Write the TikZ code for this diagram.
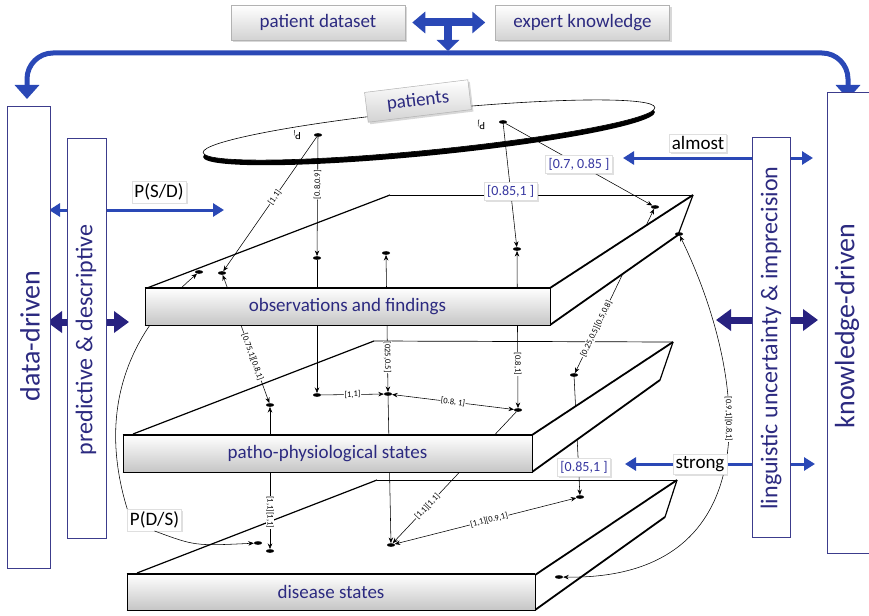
\documentclass[tikz,border=0pt]{standalone}
\usepackage{fontspec}
\setmainfont{Carlito}
\usetikzlibrary{arrows.meta,shapes.geometric,shadows}
\definecolor{navy}{RGB}{44,42,128}
\definecolor{ablue}{RGB}{42,72,182}
\definecolor{dblue}{RGB}{40,34,128}
\definecolor{bord}{RGB}{60,60,140}
\definecolor{lblue}{RGB}{55,55,160}
\newcommand\myfs[1]{\fontsize{#1}{#1}\selectfont}
\tikzset{
 graybox/.style={draw=gray!60, line width=0.5pt, top color=white, bottom color=gray!35, text=navy, font=\myfs{19}, inner sep=0pt, drop shadow={shadow xshift=2pt, shadow yshift=-2pt, opacity=0.3}},
 tagbox/.style={draw=gray!25, fill=white, line width=0.4pt, inner sep=2.5pt, font=\myfs{19}, drop shadow={shadow xshift=1.5pt, shadow yshift=-1.5pt, opacity=0.25}},
 blabel/.style={tagbox, text=lblue, font=\myfs{14}, inner sep=3pt},
 sidebox/.style={draw=bord, fill=white, line width=0.9pt, inner sep=0pt},
 sidetext/.style={rotate=90, text=navy, inner sep=0pt},
 front/.style={draw=black, line width=0.8pt, top color=white, bottom color=gray!45, text=navy, font=\myfs{19}, inner sep=0pt},
 dot/.style={ellipse, fill=black, minimum width=8pt, minimum height=3.6pt, inner sep=0pt},
 con/.style={line width=0.55pt, -{Stealth[length=5.5pt,width=4.5pt]}},
 biconn/.style={line width=0.55pt, {Stealth[length=5.5pt,width=4.5pt]}-{Stealth[length=5.5pt,width=4.5pt]}},
 tinylab/.style={font=\myfs{8.5}, fill=white, inner sep=0.6pt, sloped},
 bluedbl/.style={ablue, line width=3pt, {Triangle[width=13pt,length=11pt]}-{Triangle[width=13pt,length=11pt]}},
 darkdbl/.style={dblue, line width=7pt, {Triangle[width=21pt,length=15pt]}-{Triangle[width=21pt,length=15pt]}},
 thickedge/.style={line width=1.8pt},
 midedge/.style={line width=1.2pt},
 thinedge/.style={line width=0.7pt},
}
\begin{document}
\begin{tikzpicture}[x=1pt,y=-1pt]
\useasboundingbox (0,0) rectangle (869,615);
\fill[white] (0,0) rectangle (869,615);

% ---- top boxes and big blue arrows
\node[graybox, minimum width=174pt, minimum height=35pt] (pd) at (318,22.5) {patient dataset};
\node[graybox, minimum width=174pt, minimum height=35pt] (ek) at (582.5,22.5) {expert knowledge};
\coordinate (tee) at (448,23);
\coordinate (stemend) at (448,51);
\coordinate (teeb) at (448,53);
\coordinate (lt) at (27,99);
\coordinate (rt) at (848,99);
\draw[ablue, line width=5pt, rounded corners=26pt, -{Triangle[width=24pt,length=14pt]}] (teeb) -| (lt);
\draw[ablue, line width=5pt, rounded corners=26pt, -{Triangle[width=24pt,length=14pt]}] (teeb) -| (rt);
\draw[ablue, line width=8pt, {Triangle[width=21pt,length=13pt]}-{Triangle[width=21pt,length=13pt]}] ([xshift=7pt]pd.east) -- ([xshift=-10pt]ek.west);
\draw[ablue, line width=8pt, -{Triangle[width=22pt,length=11pt]}] (tee) -- (stemend);

% ---- horizontal arrows behind side boxes
\coordinate (psdL) at (49,210); \coordinate (psdR) at (224,210);
\coordinate (almL) at (623,158); \coordinate (almR) at (813,158);
\coordinate (strL) at (625,464); \coordinate (strR) at (815,464);
\coordinate (dkL1) at (47,322); \coordinate (dkR1) at (129,322);
\coordinate (dkL2) at (716,320); \coordinate (dkR2) at (818,320);
\draw[bluedbl] (psdL) -- (psdR);
\draw[bluedbl] (almL) -- (almR);
\draw[bluedbl] (strL) -- (strR);
\draw[darkdbl] (dkL1) -- (dkR1);
\draw[darkdbl] (dkL2) -- (dkR2);

% ---- side boxes
\node[sidebox, minimum width=43pt, minimum height=462pt] (ddb) at (28.5,337) {};
\node[sidetext, font=\myfs{28}] (ddt) at (30,336) {data-driven};
\node[sidebox, minimum width=39pt, minimum height=400pt] (pdb) at (86.5,338) {};
\node[sidetext, font=\myfs{24}] (pdt) at (86,340) {predictive \& descriptive};
\node[sidebox, minimum width=38pt, minimum height=400pt] (lub) at (771,337) {};
\node[sidetext, font=\myfs{24}] (lut) at (771,338) {linguistic uncertainty \& imprecision};
\node[sidebox, minimum width=52pt, minimum height=461pt] (kdb) at (853,322.5) {};
\node[sidetext, font=\myfs{28}] (kdt) at (847,326) {knowledge-driven};

\node[tagbox] (psd) at (159,192) {P(S/D)};
\node[tagbox] (alm) at (698,143) {almost};

% ---- patients ellipse
\fill[black, rotate around={5.7:(429,134.5)}] (429,134.5) ellipse [x radius=227pt, y radius=21pt];
\draw[line width=0.6pt, fill=white, rotate around={5.7:(429,130)}] (429,130) ellipse [x radius=227pt, y radius=20pt];
\node[graybox, rotate=7, minimum width=104pt, minimum height=30pt] (pat) at (418,101) {patients};

% ---- top faces of slabs
\draw[midedge] (147,288) -- (390,195);
\draw[thinedge] (390,195) -- (693,195);
\draw[midedge] (133,434) -- (374,341);
\draw[thinedge] (374,341) -- (673,342);
\draw[midedge] (137,573) -- (377,480);
\draw[thinedge] (377,480) -- (677,480);

% ---- points
\node[dot] (Pi) at (318,135) {};
\node[dot] (Pj) at (503,122) {};
\node[rotate=180, font=\myfs{11}, inner sep=0pt] (Pil) at (297,135) {P\textsubscript{i}};
\node[rotate=180, font=\myfs{11}, inner sep=0pt] (Pjl) at (481,125) {P\textsubscript{j}};
\node[dot] (o1) at (317,258) {};
\node[dot] (o2) at (222,273) {};
\node[dot] (o3) at (199,272) {};
\node[dot] (o4) at (386,253) {};
\node[dot] (o5) at (517,249) {};
\node[dot] (o6) at (655,207) {};
\node[dot] (p270) at (270,405) {};
\node[dot] (p317) at (317,395) {};
\node[dot] (p387) at (388,394) {};
\node[dot] (p517) at (518,410) {};
\node[dot] (p574) at (574,375) {};
\node[dot] (d256) at (258,543) {};
\node[dot] (d270) at (270,551) {};
\node[dot] (d392) at (391,545) {};
\node[dot] (d578) at (580,497) {};
\node[tagbox] (PDS) at (154.5,520) {P(D/S)};

% ---- connectors
\draw[con] (Pi) -- node[tinylab, pos=0.4]{[0.8,0.9]} (o1);
\draw[con] (Pi) -- node[tinylab, pos=0.45]{[1,1]} (o2);
\draw[con] (Pj) -- node[blabel, pos=0.55] (l1) {[0.85,1 ]} (o5);
\draw[con] (Pj) -- node[blabel, pos=0.5] (l2) {[0.7, 0.85 ]} (o6);
\draw[con] (PDS.north west) .. controls (100,420) and (120,340) .. (o3);
\draw[con] (PDS.south) .. controls (195,546) .. (d256);
\draw[biconn] (o4) -- node[tinylab, pos=0.745]{[025,0.5]} (p387);
\draw[biconn] (o5) -- node[tinylab, pos=0.72]{[0.8,1]} (p517);
\draw[biconn] (o6) -- node[tinylab, pos=0.73]{[0.25,0.5][0.5,0.8]} (p574);
\draw[biconn] (o2) -- node[tinylab, pos=0.64]{[0.75,1][0.8,1]} (p270);
\draw[con] (o1) -- (p317);
\draw[con] (p317) -- node[tinylab]{[1,1]} (p387);
\draw[biconn] (p387) -- node[tinylab]{[0.8, 1]} (p517);
\draw[biconn] (p270) -- node[tinylab, pos=0.74]{[1,1][1,1]} (d270);
\draw[con] (p387) -- (d392);
\draw[con] (p517) -- node[tinylab, pos=0.72]{[1,1][1,1]} (d392);
\draw[biconn] (d392) -- node[tinylab, pos=0.52]{[1,1][0.9,1]} (d578);
\draw[con] (p574) -- (d578);

% ---- slab 1
\fill[white] (550,288) -- (693,195) -- (678,235) -- (550,325) -- cycle;
\draw[thickedge] (550,288) -- (693,195);
\draw[thickedge] (550,325) -- (678,235);
\draw[midedge] (678,235) -- (693,195);
\node[front, minimum width=405pt, minimum height=37pt] (obs) at (347.5,306.5) {observations and findings};
\draw[thickedge] (obs.north west) -- (obs.north east);
\draw[thickedge] (obs.south west) -- (obs.south east);
% ---- slab 2
\fill[white] (532,435) -- (673,342) -- (660,380) -- (532,472) -- cycle;
\draw[thickedge] (532,435) -- (673,342);
\draw[thickedge] (532,472) -- (660,380);
\draw[midedge] (660,380) -- (673,342);
\node[front, minimum width=409pt, minimum height=37pt] (pps) at (327.5,453.5) {patho-physiological states};
\draw[thickedge] (pps.north west) -- (pps.north east);
\draw[thickedge] (pps.south west) -- (pps.south east);
% ---- slab 3
\fill[white] (535,575) -- (677,480) -- (665,517) -- (535,610) -- cycle;
\draw[thickedge] (535,575) -- (677,480);
\draw[thickedge] (535,610) -- (665,517);
\draw[midedge] (665,517) -- (677,480);
\node[front, minimum width=408pt, minimum height=36pt] (dis) at (331,592) {disease states};
\draw[thickedge] (dis.north west) -- (dis.north east);
\draw[thickedge] (dis.south west) -- (dis.south east);

% ---- after slabs
\node[dot] (o7) at (679,234) {};
\node[dot] (dside) at (559,577) {};
\draw[biconn] (o7) .. controls (750,380) and (770,580) .. node[tinylab, pos=0.4]{[0.9,1][0.8,1]} (dside);
\node[blabel] (l3) at (584,467) {[0.85,1 ]};
\node[tagbox] (str) at (700,464) {strong};
\end{tikzpicture}
\end{document}
